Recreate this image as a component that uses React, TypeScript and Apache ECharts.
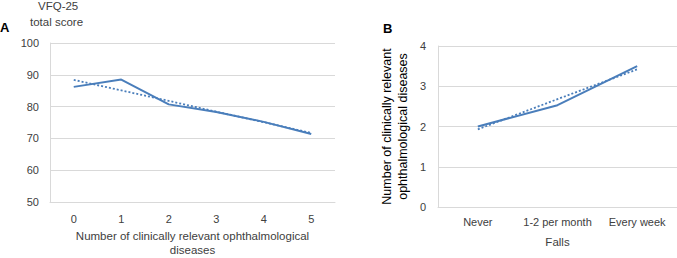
import React, { useEffect, useRef } from "react";
import * as echarts from "echarts";

const diseasesCategories = ["0", "1", "2", "3", "4", "5"];
const vfqScores = [86.2, 88.5, 80.7, 78.3, 75.2, 71.4];
const vfqTrend = [88.4, 85.1, 81.8, 78.4, 75.1, 71.7];

const fallsCategories = ["Never", "1-2 per month", "Every week"];
const diseasesByFalls = [2.0, 2.53, 3.5];
const diseasesTrend = [1.93, 2.68, 3.42];

const BLUE = "#4a7ebb";
const FONT = "Liberation Sans";
const TXT = "#404040";

export default function App() {
  const ref = useRef<HTMLDivElement>(null);
  useEffect(() => {
    if (!ref.current) return;
    const chart = echarts.init(ref.current, null, { renderer: "svg" });
    const axisLabel = { fontFamily: FONT, fontSize: 11, color: TXT };
    chart.setOption({
      animation: false,
      textStyle: { fontFamily: FONT },
      grid: [
        { left: 50, top: 43, width: 285, height: 159, outerBoundsMode: "none", containLabel: false },
        { left: 438, top: 46, width: 239, height: 161, outerBoundsMode: "none", containLabel: false },
      ],
      xAxis: [
        {
          gridIndex: 0,
          type: "category",
          data: diseasesCategories,
          boundaryGap: true,
          axisLine: { show: true, lineStyle: { color: "#d9d9d9" } },
          axisTick: { show: false },
          axisLabel: { ...axisLabel, margin: 11, interval: 0 },
          name: "Number of clinically relevant ophthalmological\ndiseases",
          nameLocation: "middle",
          nameGap: 27,
          nameTextStyle: { fontFamily: FONT, fontSize: 11.5, color: TXT, lineHeight: 14 },
        },
        {
          gridIndex: 1,
          type: "category",
          data: fallsCategories,
          boundaryGap: true,
          axisLine: { show: true, lineStyle: { color: "#d9d9d9" } },
          axisTick: { show: false },
          axisLabel: { ...axisLabel, margin: 9, interval: 0 },
          name: "Falls",
          nameLocation: "middle",
          nameGap: 29,
          nameTextStyle: { fontFamily: FONT, fontSize: 11.5, color: TXT },
        },
      ],
      yAxis: [
        {
          gridIndex: 0,
          type: "value",
          min: 50,
          max: 100,
          interval: 10,
          axisLine: { show: true, lineStyle: { color: "#d9d9d9" } },
          axisTick: { show: false },
          axisLabel: { ...axisLabel, margin: 11 },
          splitLine: { lineStyle: { color: "#d9d9d9" } },
        },
        {
          gridIndex: 1,
          type: "value",
          min: 0,
          max: 4,
          interval: 1,
          axisLine: { show: true, lineStyle: { color: "#d9d9d9" } },
          axisTick: { show: false },
          axisLabel: { ...axisLabel, margin: 12 },
          splitLine: { lineStyle: { color: "#d9d9d9" } },
          name: "Number of clinically relevant\nophthalmological diseases",
          nameLocation: "middle",
          nameGap: 27,
          nameRotate: 90,
          nameTextStyle: { fontFamily: FONT, fontSize: 12.5, color: "#000", lineHeight: 16 },
        },
      ],
      series: [
        {
          type: "line",
          xAxisIndex: 0,
          yAxisIndex: 0,
          data: vfqScores,
          symbol: "none",
          lineStyle: { color: BLUE, width: 2 },
        },
        {
          type: "line",
          xAxisIndex: 0,
          yAxisIndex: 0,
          data: vfqTrend,
          symbol: "none",
          lineStyle: { color: BLUE, width: 1.8, type: [2, 2] },
        },
        {
          type: "line",
          xAxisIndex: 1,
          yAxisIndex: 1,
          data: diseasesByFalls,
          symbol: "none",
          lineStyle: { color: BLUE, width: 2 },
        },
        {
          type: "line",
          xAxisIndex: 1,
          yAxisIndex: 1,
          data: diseasesTrend,
          symbol: "none",
          lineStyle: { color: BLUE, width: 1.8, type: [2, 2] },
        },
      ],
      graphic: [
        {
          type: "text",
          left: 0,
          top: 21,
          style: { text: "A", font: `bold 13px ${FONT}`, fill: "#000" },
        },
        {
          type: "text",
          left: 383,
          top: 22,
          style: { text: "B", font: `bold 13px ${FONT}`, fill: "#000" },
        },
        {
          type: "text",
          left: 38,
          top: 0,
          style: { text: "VFQ-25", font: `11.5px ${FONT}`, fill: TXT },
        },
        {
          type: "text",
          left: 30,
          top: 16,
          style: { text: "total score", font: `11.5px ${FONT}`, fill: TXT },
        },
      ],
    });
    return () => chart.dispose();
  }, []);
  return <div ref={ref} style={{ width: 677, height: 258, position: "absolute", left: 0, top: 0 }} />;
}
